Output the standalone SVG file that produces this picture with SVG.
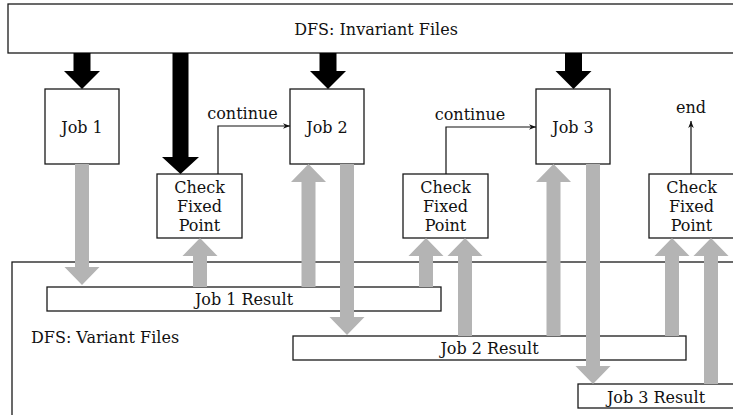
<svg xmlns="http://www.w3.org/2000/svg" width="733" height="415" viewBox="0 0 733 415">
<defs>
<style>
.box{fill:#fff;stroke:#1a1a1a;stroke-width:1.3}
.frame{fill:none;stroke:#1a1a1a;stroke-width:1.3}
.t{font-family:"DejaVu Serif","Liberation Serif",serif;font-size:16px;fill:#111;text-anchor:middle}
.tl{font-family:"DejaVu Serif","Liberation Serif",serif;font-size:16px;fill:#111}
.gray{fill:#b4b4b4}
.black{fill:#000}
.thin{fill:none;stroke:#111;stroke-width:1.2}
</style>
<marker id="ah" viewBox="0 0 10 10" refX="10" refY="5" markerWidth="7" markerHeight="7" markerUnits="userSpaceOnUse" orient="auto">
<path d="M0,1 L10,5 L0,9 L3,5 Z" fill="#111"/>
</marker>
</defs>
<rect width="733" height="415" fill="#fff"/>

<g id="variant-files">
<rect class="frame" x="12" y="262" width="740" height="170"/>
<text class="tl" x="31" y="343">DFS: Variant Files</text>
</g>
<g id="invariant-files">
<rect class="box" x="8" y="4" width="736" height="49"/>
<text class="t" x="376" y="35">DFS: Invariant Files</text>
</g>
<g id="job1">
<rect class="box" x="45" y="89" width="74" height="75"/>
<text class="t" x="82" y="133">Job 1</text>
</g>
<g id="job2">
<rect class="box" x="290" y="89" width="74" height="75"/>
<text class="t" x="327" y="133">Job 2</text>
</g>
<g id="job3">
<rect class="box" x="536" y="89" width="74" height="75"/>
<text class="t" x="573" y="133">Job 3</text>
</g>
<g id="check1">
<rect class="box" x="157" y="174" width="85" height="64"/>
<text class="t" x="199.5" y="193">Check</text>
<text class="t" x="199.5" y="212">Fixed</text>
<text class="t" x="199.5" y="231">Point</text>
</g>
<g id="check2">
<rect class="box" x="403" y="174" width="85" height="64"/>
<text class="t" x="445.5" y="193">Check</text>
<text class="t" x="445.5" y="212">Fixed</text>
<text class="t" x="445.5" y="231">Point</text>
</g>
<g id="check3">
<rect class="box" x="649" y="174" width="85" height="64"/>
<text class="t" x="691.5" y="193">Check</text>
<text class="t" x="691.5" y="212">Fixed</text>
<text class="t" x="691.5" y="231">Point</text>
</g>
<g id="job1-result">
<rect class="box" x="47" y="287" width="394" height="24"/>
<text class="t" x="244" y="305">Job 1 Result</text>
</g>
<g id="job2-result">
<rect class="box" x="293" y="336" width="393" height="24"/>
<text class="t" x="489.5" y="354">Job 2 Result</text>
</g>
<g id="job3-result">
<rect class="box" x="578" y="384" width="160" height="24"/>
<text class="t" x="656" y="403">Job 3 Result</text>
</g>

<g id="connectors">
<g id="gray-arrows" class="gray">
<polygon points="75,164 89,164 89,267 99.5,267 82,285 64.5,267 75,267"/>
<polygon points="193,287 207,287 207,256 217.5,256 200,238 182.5,256 193,256"/>
<polygon points="301.5,287 315.5,287 315.5,182 326,182 308.5,164 291,182 301.5,182"/>
<polygon points="340,164 354,164 354,317 364.5,317 347,335 329.5,317 340,317"/>
<polygon points="419,287 433,287 433,256 443.5,256 426,238 408.5,256 419,256"/>
<polygon points="458,336 472,336 472,256 482.5,256 465,238 447.5,256 458,256"/>
<polygon points="546.5,336 560.5,336 560.5,182 571,182 553.5,164 536,182 546.5,182"/>
<polygon points="586,164 600,164 600,366 610.5,366 593,384 575.5,366 586,366"/>
<polygon points="665,336 679,336 679,256 689.5,256 672,238 654.5,256 665,256"/>
<polygon points="704,384 718,384 718,256 728.5,256 711,238 693.5,256 704,256"/>
</g>
<g id="black-arrows" class="black">
<polygon points="73.5,53 90.5,53 90.5,71 100,71 82,89 64,71 73.5,71"/>
<polygon points="172.5,53 188.5,53 188.5,157 199,157 180.5,174 162,157 172.5,157"/>
<polygon points="319.5,53 336.5,53 336.5,71 346,71 328,89 310,71 319.5,71"/>
<polygon points="565,53 582,53 582,71 591.5,71 573.5,89 555.5,71 565,71"/>
</g>
<path class="thin" d="M218,174 V126 H290" marker-end="url(#ah)"/>
<text class="t" x="242.5" y="119">continue</text>
<path class="thin" d="M446,174 V127 H536" marker-end="url(#ah)"/>
<text class="t" x="470" y="120">continue</text>
<path class="thin" d="M691,174 V121" marker-end="url(#ah)"/>
<text class="t" x="691" y="113">end</text>
</g>
</svg>
